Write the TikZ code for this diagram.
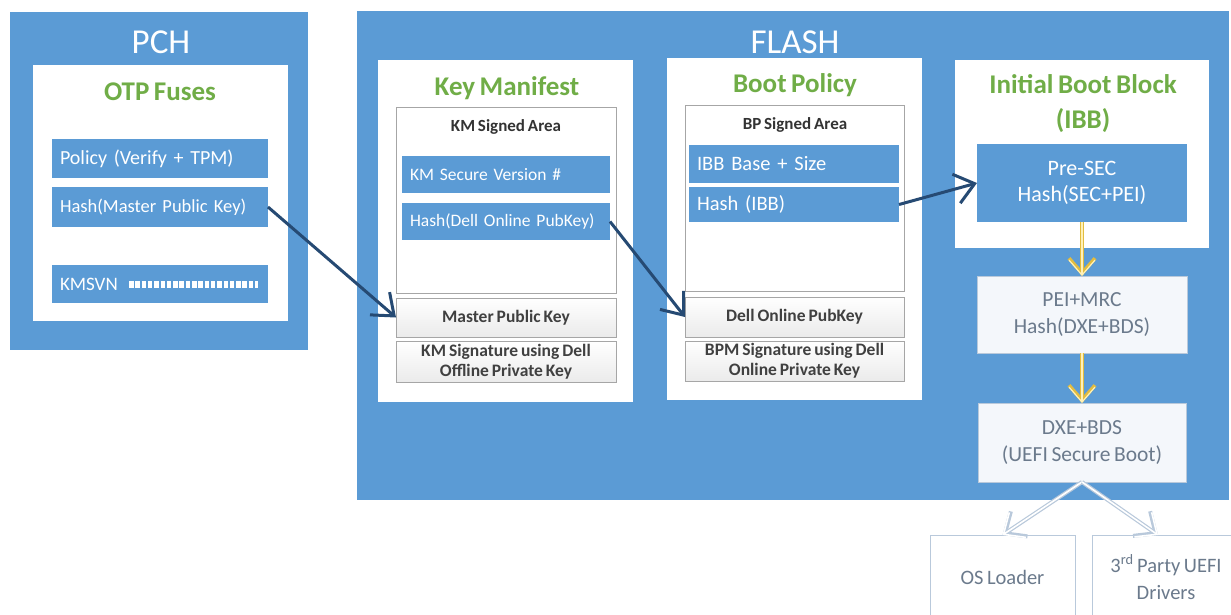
\documentclass[tikz,border=0pt]{standalone}
\usepackage{fontspec}
\setmainfont[WordSpace=0.75]{Carlito}
\usetikzlibrary{arrows.meta}
\definecolor{boxblue}{HTML}{5B9BD5}
\definecolor{fusegreen}{HTML}{70AD47}
\definecolor{linkblue}{HTML}{264A73}
\definecolor{flowgold}{HTML}{E2BC3F}
\definecolor{flowlight}{HTML}{FFF1B8}
\definecolor{keygray}{HTML}{A6A6A6}
\definecolor{softtext}{HTML}{6B7A8C}
\definecolor{softfill}{HTML}{F4F7FB}
\definecolor{softline}{HTML}{B9C9DB}

\begin{document}
\begin{tikzpicture}[x=1pt, y=-1pt,
    blk/.style={fill=boxblue, anchor=north west, inner sep=0pt, outer sep=0pt},
    pane/.style={fill=white, anchor=north west, inner sep=0pt, outer sep=0pt},
    ttl/.style={text=white, font=\fontsize{35}{38}\selectfont},
    grn/.style={text=fusegreen, font=\bfseries\fontsize{27}{35}\selectfont, align=center},
    bar/.style={fill=boxblue, text=white, anchor=north west, inner xsep=8pt, inner ysep=0pt,
      outer sep=0pt, align=left, font=\fontsize{20}{22}\selectfont},
    area/.style={draw=keygray, fill=white, line width=1pt, anchor=north west, inner sep=0pt, outer sep=0pt},
    keybox/.style={draw=keygray, line width=1pt, top color=white, bottom color=black!8, anchor=north west,
      inner sep=0pt, outer sep=0pt, align=center, text=black!75, font=\bfseries\fontsize{17.5}{20}\selectfont},
    stage/.style={fill=softfill, draw=softline, anchor=north west, inner sep=0pt, outer sep=0pt,
      align=center, text=softtext, font=\fontsize{21.5}{27}\selectfont},
    link/.style={draw=linkblue, line width=3pt, -{Straight Barb[length=19pt,width=30pt]}},
    flowedge/.style={draw=flowgold, line width=3.6pt, -{Straight Barb[length=15pt,width=26pt]}},
    flowcore/.style={draw=flowlight, line width=1.2pt, -{Straight Barb[length=15pt,width=26pt]}},
    outedge/.style={draw=softline, line width=4pt, -{Straight Barb[length=17pt,width=30pt]}},
    outcore/.style={draw=white, line width=1.6pt, -{Straight Barb[length=17pt,width=30pt]}}]
  \useasboundingbox (0,0) rectangle (1231,614);

  % PCH
  \node[blk, minimum width=298, minimum height=338] (pch) at (10,12) {};
  \node[ttl] (pcht) at (161,42) {PCH};
  \node[pane, minimum width=255, minimum height=256] (otp) at (33,65) {};
  \node[grn] (otpt) at (160,92) {OTP Fuses};
  \node[bar, text width=200, minimum height=39] (policy) at (52,139) {Policy (Verify + TPM)};
  \node[bar, text width=200, minimum height=40, font=\fontsize{18.5}{20}\selectfont] (hashmk) at (52,187) {Hash(Master Public Key)};
  \node[bar, text width=200, minimum height=38, font=\fontsize{19}{20}\selectfont] (kmsvn) at (52,265) {KMSVN};
  \draw[white, line width=7pt, dash pattern=on 4.5pt off 1.8pt] (129,284) -- (258,284);

  % FLASH
  \node[blk, minimum width=872, minimum height=489] (flash) at (357,11) {};
  \node[ttl] (flasht) at (795,42) {FLASH};

  % key manifest
  \node[pane, minimum width=255, minimum height=342] (km) at (378,60) {};
  \node[grn] (kmt) at (507,88) {Key Manifest};
  \node[area, minimum width=220, minimum height=186] (kmarea) at (396,107) {};
  \node[text=black!80, font=\bfseries\fontsize{17}{18}\selectfont] (kmareat) at (506,127) {KM Signed Area};
  \node[bar, text width=192, minimum height=37, font=\fontsize{17.5}{19}\selectfont] (kmver) at (402,156) {KM Secure Version \#};
  \node[bar, text width=192, minimum height=37, font=\fontsize{17.5}{19}\selectfont] (hashdell) at (402,203) {Hash(Dell Online PubKey)};
  \node[keybox, minimum width=220, minimum height=39] (mpk) at (396,298) {Master Public Key};
  \node[keybox, minimum width=220, minimum height=41] (kmsig) at (396,341) {KM Signature using Dell\\Offline Private Key};

  % boot policy
  \node[pane, minimum width=255, minimum height=342] (bp) at (667,58) {};
  \node[grn] (bpt) at (795,85) {Boot Policy};
  \node[area, minimum width=219, minimum height=186] (bparea) at (685,105) {};
  \node[text=black!80, font=\bfseries\fontsize{17}{18}\selectfont] (bpareat) at (795,125) {BP Signed Area};
  \node[bar, text width=194, minimum height=38, font=\fontsize{20.5}{22}\selectfont] (ibbbase) at (689,145) {IBB Base + Size};
  \node[bar, text width=194, minimum height=35, font=\fontsize{20.5}{22}\selectfont] (hashibb) at (689,187) {Hash (IBB)};
  \node[keybox, minimum width=219, minimum height=40] (dopk) at (685,297) {Dell Online PubKey};
  \node[keybox, minimum width=219, minimum height=40] (bpmsig) at (685,341) {BPM Signature using Dell\\Online Private Key};

  % IBB and boot chain
  \node[pane, minimum width=254, minimum height=188] (ibb) at (955,60) {};
  \node[grn] (ibbt) at (1083,104) {Initial Boot Block\\(IBB)};
  \node[bar, minimum width=210, minimum height=78, align=center, font=\fontsize{22}{26}\selectfont] (presec) at (977,144) {Pre-SEC\\Hash(SEC+PEI)};
  \node[stage, minimum width=210, minimum height=77] (peimrc) at (977,276) {PEI+MRC\\Hash(DXE+BDS)};
  \node[stage, minimum width=208, minimum height=79] (dxebds) at (978,403) {DXE+BDS\\(UEFI Secure Boot)};
  \node[stage, fill=white, minimum width=145, minimum height=84, font=\fontsize{20.5}{27}\selectfont] (osl) at (930,535) {OS Loader};
  \node[stage, fill=white, minimum width=148, minimum height=84, font=\fontsize{20.5}{27}\selectfont] (third) at (1092,535) {3\textsuperscript{rd} Party UEFI\\Drivers};
  \coordinate (thirdin) at (1158,535);

  \draw[link] (hashmk.east) -- (mpk.west);
  \draw[link] (hashdell.east) -- (dopk.west);
  \draw[link] (hashibb.east) -- (presec.west);

  \draw[flowedge] (presec.south) -- (peimrc.north);
  \draw[flowcore] (presec.south) -- (peimrc.north);
  \draw[flowedge] (peimrc.south) -- (dxebds.north);
  \draw[flowcore] (peimrc.south) -- (dxebds.north);

  \draw[outedge] (dxebds.south) -- (osl.north);
  \draw[outcore] (dxebds.south) -- (osl.north);
  \draw[outedge] (dxebds.south) -- (thirdin);
  \draw[outcore] (dxebds.south) -- (thirdin);
\end{tikzpicture}
\end{document}
